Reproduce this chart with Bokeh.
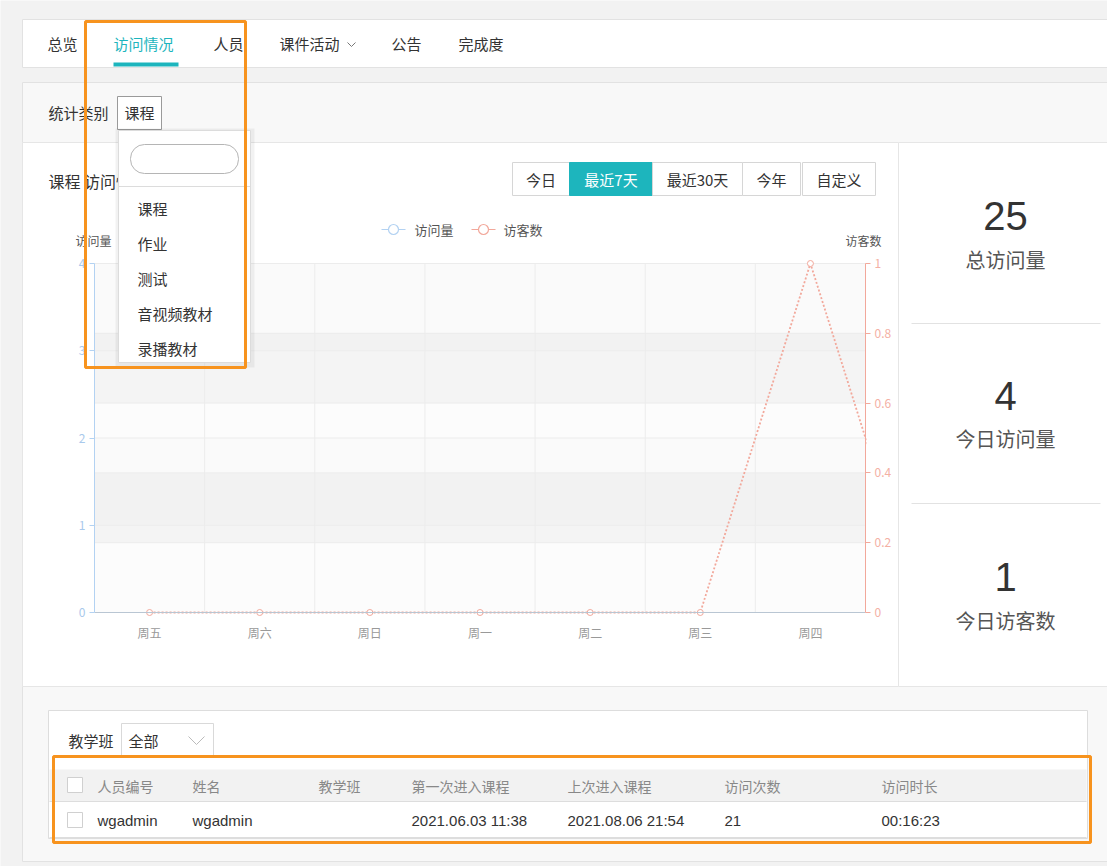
from bokeh.plotting import figure
from bokeh.models import (Range1d, LinearAxis, FixedTicker, BoxAnnotation,
                          NumeralTickFormatter)
from bokeh.core.properties import value
from bokeh.embed import file_html
from bokeh.resources import INLINE

# ---------------- data ----------------
days = ["周五", "周六", "周日", "周一", "周二", "周三", "周四"]
visits = [0, 0, 0, 0, 0, 0, 0]
visitors = [0, 0, 0, 0, 0, 0, 1]
next_day_visitors = 0          # following point, cut off by the plot edge
visit_ticks = [0, 1, 2, 3, 4]
visitor_ticks = [0, 0.2, 0.4, 0.6, 0.8, 1]
series_names = ["访问量", "访客数"]
stats_values = ["25", "4", "1"]
stats_labels = ["总访问量", "今日访问量", "今日访客数"]
nav_items = ["总览", "访问情况", "人员", "课件活动", "公告", "完成度"]
range_buttons = ["今日", "最近7天", "最近30天", "今年", "自定义"]
dropdown_items = ["课程", "作业", "测试", "音视频教材", "录播教材"]
table_headers = ["人员编号", "姓名", "教学班", "第一次进入课程", "上次进入课程", "访问次数", "访问时长"]
table_row = ["wgadmin", "wgadmin", "", "2021.06.03 11:38", "2021.08.06 21:54", "21", "00:16:23"]

# ---------------- style ----------------
CJK = "Noto Sans CJK SC"
LAT = "Liberation Sans"
TEAL = "#1db5bd"
BLUE = "#b3d2f2"
PINK = "#f2a89b"
ORANGE = "#f7931e"

X0, X1, Y0, Y1 = 0, 1107, 0, 866  # page pixel window shown by the figure
p = figure(width=X1 - X0, height=Y1 - Y0,
           x_range=Range1d(X0, X1), y_range=Range1d(Y1, Y0),
           output_backend="svg", toolbar_location=None,
           x_axis_type=None, y_axis_type=None, min_border=0,
           outline_line_color=None,
           background_fill_color="#f2f2f2", border_fill_color="#f2f2f2")

# chart plot area in page pixels
PX_L, PX_R, PY_T, PY_B = 94, 865, 263, 612
n = len(days)
step = (PX_R - PX_L) / n
vmax, rmax = visit_ticks[-1], visitor_ticks[-1]
uv = (PY_B - PY_T) / vmax
ur = (PY_B - PY_T) / rmax
p.extra_x_ranges = {"days": Range1d((X0 - PX_L) / step - 0.5, (X1 - PX_L) / step - 0.5)}
p.extra_y_ranges = {"visits": Range1d((PY_B - Y1) / uv, (PY_B - Y0) / uv),
                    "visitors": Range1d((PY_B - Y1) / ur, (PY_B - Y0) / ur)}


def T(xs, ys, texts, size, color, align="left", font=CJK, baseline="middle"):
    p.text(x=xs, y=ys, text=texts, text_font=value(font),
           text_font_size=f"{size}px", text_color=color,
           text_align=align, text_baseline=baseline)


def R(l, r, t, b, fill, line=None, alpha=1.0, lw=1):
    p.quad(left=l, right=r, top=t, bottom=b, fill_color=fill, fill_alpha=alpha,
           line_color=line, line_width=lw)


# ---------------- nav bar ----------------
R([22], [1115], [19], [67], "white", "#e2e2e2")
nav_x = [47, 113, 213, 279, 391, 458]
nav_col = ["#333333" if i != 1 else TEAL for i in range(len(nav_items))]
p.text(x=nav_x, y=[43] * len(nav_items), text=nav_items, text_font=value(CJK),
       text_font_size="15px", text_color=nav_col, text_baseline="middle")
R([113], [178], [62], [66], TEAL)
p.line([347, 351, 355], [42, 46, 42], line_color="#777777", line_width=1)

# ---------------- main panel ----------------
R([22], [1115], [82], [861], "#f8f8f8", "#e2e2e2")
T([48], [112], ["统计类别"], 15, "#333333")
R([117], [161], [96], [129], "white", "#9a9a9a")
T([139], [112], [dropdown_items[0]], 15, "#333333", align="center")

# chart panel
R([22], [898], [142], [686], "white", "#e6e6e6")
T([48], [180], ["课程 访问情况"], 16, "#333333")

btn_l = [512, 569, 652, 742, 802]
btn_r = [569, 652, 742, 800, 875]
btn_fill = ["white" if i != 1 else TEAL for i in range(len(range_buttons))]
btn_line = ["#d6d6d6" if i != 1 else TEAL for i in range(len(range_buttons))]
p.quad(left=btn_l, right=btn_r, top=[162] * 5, bottom=[195] * 5,
       fill_color=btn_fill, line_color=btn_line)
p.text(x=[(a + b) / 2 for a, b in zip(btn_l, btn_r)], y=[179] * 5, text=range_buttons,
       text_font=value(CJK), text_font_size="15px",
       text_color=["#333333" if i != 1 else "white" for i in range(5)],
       text_align="center", text_baseline="middle")

# legend
p.segment(x0=[381, 471], x1=[405, 495], y0=[229, 229], y1=[229, 229],
          line_color=[BLUE, PINK], line_width=1.2)
p.scatter(x=[393, 483], y=[229, 229], marker="circle", size=10, fill_color="white",
          line_color=[BLUE, PINK], line_width=1.2)
T([414, 503], [229, 229], series_names, 13, "#555555")

# axis names
T([93, 863], [240, 240], series_names, 12, "#555555", align="center")

# split areas (alternating bands) and grid lines
xl, xr = -0.5, n - 0.5
vb = list(range(len(visit_ticks) - 1))
p.quad(left=[xl] * len(vb), right=[xr] * len(vb),
       bottom=visit_ticks[:-1], top=visit_ticks[1:],
       fill_color=["#fafafa" if i % 2 == 0 else "#c8c8c8" for i in vb],
       fill_alpha=[0.4 if i % 2 == 0 else 0.07 for i in vb],
       line_color=None, x_range_name="days", y_range_name="visits")
rb = list(range(len(visitor_ticks) - 1))
p.quad(left=[xl] * len(rb), right=[xr] * len(rb),
       bottom=visitor_ticks[:-1], top=visitor_ticks[1:],
       fill_color=["#fafafa" if i % 2 == 0 else "#c8c8c8" for i in rb],
       fill_alpha=[0.4 if i % 2 == 0 else 0.17 for i in rb],
       line_color=None, x_range_name="days", y_range_name="visitors")
p.segment(x0=[xl] * (len(visit_ticks) - 1), x1=[xr] * (len(visit_ticks) - 1),
          y0=visit_ticks[1:], y1=visit_ticks[1:], line_color="#ececec",
          x_range_name="days", y_range_name="visits")
p.segment(x0=[xl] * (len(visitor_ticks) - 1), x1=[xr] * (len(visitor_ticks) - 1),
          y0=visitor_ticks[1:], y1=visitor_ticks[1:], line_color="#ececec",
          x_range_name="days", y_range_name="visitors")
bx = [i + 0.5 for i in range(n - 1)]
p.segment(x0=bx, x1=bx, y0=[0] * len(bx), y1=[rmax] * len(bx), line_color="#ececec",
          x_range_name="days", y_range_name="visitors")

# series
p.line(x=list(range(n)), y=visits, line_color=BLUE, line_width=1.2,
       x_range_name="days", y_range_name="visits")
p.line(x=list(range(n + 1)), y=visitors + [next_day_visitors], line_color=PINK,
       line_width=1.8, line_dash="2 2", x_range_name="days", y_range_name="visitors")
p.scatter(x=list(range(n)), y=visitors, marker="circle", size=6, fill_color="white",
          line_color=PINK, line_width=1, x_range_name="days", y_range_name="visitors")

# clip the chart at its right edge
R([866], [901], [250], [640], "white")

# axes
ax_l = LinearAxis(y_range_name="visits", fixed_location=PX_L, bounds=(0, vmax),
                  ticker=FixedTicker(ticks=visit_ticks))
ax_r = LinearAxis(y_range_name="visitors", fixed_location=PX_R, bounds=(0, rmax),
                  ticker=FixedTicker(ticks=visitor_ticks),
                  formatter=NumeralTickFormatter(format="0.[0]"))
ax_b = LinearAxis(x_range_name="days", fixed_location=PY_B, bounds=(xl, xr),
                  ticker=FixedTicker(ticks=list(range(n))),
                  major_label_overrides={i: d for i, d in enumerate(days)})
for ax, col, lab in [(ax_l, BLUE, "#a9c9ec"), (ax_r, PINK, "#f4b0a4"), (ax_b, "#b9c6d3", "#999999")]:
    ax.axis_line_color = col
    ax.major_tick_line_color = col
    ax.minor_tick_line_color = None
    ax.major_tick_in = 0
    ax.major_tick_out = 5
    ax.major_label_text_color = lab
    ax.major_label_text_font = CJK
    ax.major_label_text_font_size = "12px"
    ax.major_label_standoff = 4
ax_b.major_tick_out = 0
ax_b.major_label_standoff = 11
p.add_layout(ax_l, "left")
p.add_layout(ax_r, "right")
p.add_layout(ax_b, "below")

# ---------------- stats panel ----------------
R([898], [1115], [142], [686], "white", "#e6e6e6")
sy_num = [215, 395, 576]
sy_lab = [259, 438, 620]
T([1005] * 3, sy_num, stats_values, 40, "#333333", align="center", font=LAT)
T([1005] * 3, sy_lab, stats_labels, 20, "#555555", align="center")
p.segment(x0=[911, 911], x1=[1100, 1100], y0=[323, 503], y1=[323, 503], line_color="#e2e2e2")

# ---------------- table ----------------
R([48], [1087], [710], [838], "white", "#dddddd")
T([68], [740], ["教学班"], 15, "#333333")
R([121], [213], [723], [757], "white", "#d9d9d9")
T([128], [740], ["全部"], 15, "#333333")
p.line([188, 196, 204], [736, 744, 736], line_color="#bbbbbb", line_width=1)
R([49], [1086], [769], [801], "#f2f2f2", None)
p.segment(x0=[49, 49], x1=[1086, 1086], y0=[801, 837], y1=[801, 837], line_color="#dddddd")
p.quad(left=[67, 67], right=[82, 82], top=[777, 812], bottom=[792, 827],
       fill_color="white", line_color="#d0d0d0")
col_x = [97, 192, 318, 411, 567, 724, 881]
T(col_x, [785] * len(col_x), table_headers, 14, "#888888")
T(col_x, [820] * len(col_x), table_row, 15, "#333333", font=LAT)

# ---------------- dropdown (open) ----------------
R([115], [254], [128], [367], "#000000", None, alpha=0.05)
R([118], [250], [130], [362], "white", "#dcdcdc")
p.segment(x0=[118], x1=[250], y0=[186], y1=[186], line_color="#dcdcdc")
T([137] * len(dropdown_items), [208, 243, 278, 313, 348], dropdown_items, 15, "#333333")
p.add_layout(BoxAnnotation(left=130, right=238, top=144, bottom=173,
                           fill_color="white", fill_alpha=1, line_color="#b5b5b5",
                           line_width=1, line_alpha=1, border_radius=14))

# ---------------- highlight boxes ----------------
p.add_layout(BoxAnnotation(left=85, right=245, top=21, bottom=367, fill_alpha=0,
                           fill_color=None, line_color=ORANGE, line_width=3, line_alpha=1))
p.add_layout(BoxAnnotation(left=53, right=1090, top=756, bottom=842, fill_alpha=0,
                           fill_color=None, line_color=ORANGE, line_width=3, line_alpha=1))

open("out.html", "w").write(file_html(p, INLINE))
